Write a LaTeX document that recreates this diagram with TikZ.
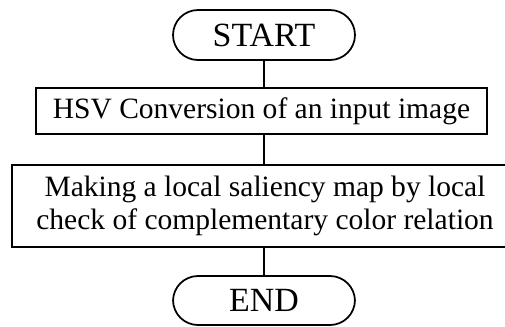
\documentclass[tikz,border=0pt]{standalone}
\usepackage{fontspec}
\setmainfont{Liberation Serif}
\newfontfamily\chartfont{Liberation Serif}
\usetikzlibrary{positioning}
\tikzset{
    termbox/.style={draw, line width=1pt, rounded corners=0.5cm, minimum width=3.64cm, minimum height=1.0cm, inner sep=0pt, font=\chartfont\fontsize{19.3}{21}\selectfont},
    procbox/.style={draw, line width=1pt, inner sep=0pt, align=center, font=\chartfont\fontsize{16.8}{18.8}\selectfont},
    flowline/.style={line width=1pt}
}
\begin{document}
\begin{tikzpicture}[x=0.02cm, y=-0.02cm]
    \useasboundingbox (0,0) rectangle (505,326);
    \node[termbox] (start) at (264,35) {START};
    \node[procbox, minimum width=9.02cm, minimum height=0.92cm] (hsv) at (261.5,111) {HSV Conversion of an input image};
    \node[procbox, minimum width=10.12cm, minimum height=1.64cm] (sal) at (265,206) {Making a local saliency map by local\\check of complementary color relation};
    \node[termbox, minimum height=0.98cm] (stop) at (264,300.5) {END};
    \draw[flowline] (start.south) -- (start.south |- hsv.north);
    \draw[flowline] (start.south |- hsv.south) -- (start.south |- sal.north);
    \draw[flowline] (start.south |- sal.south) -- (stop.north);
\end{tikzpicture}
\end{document}
